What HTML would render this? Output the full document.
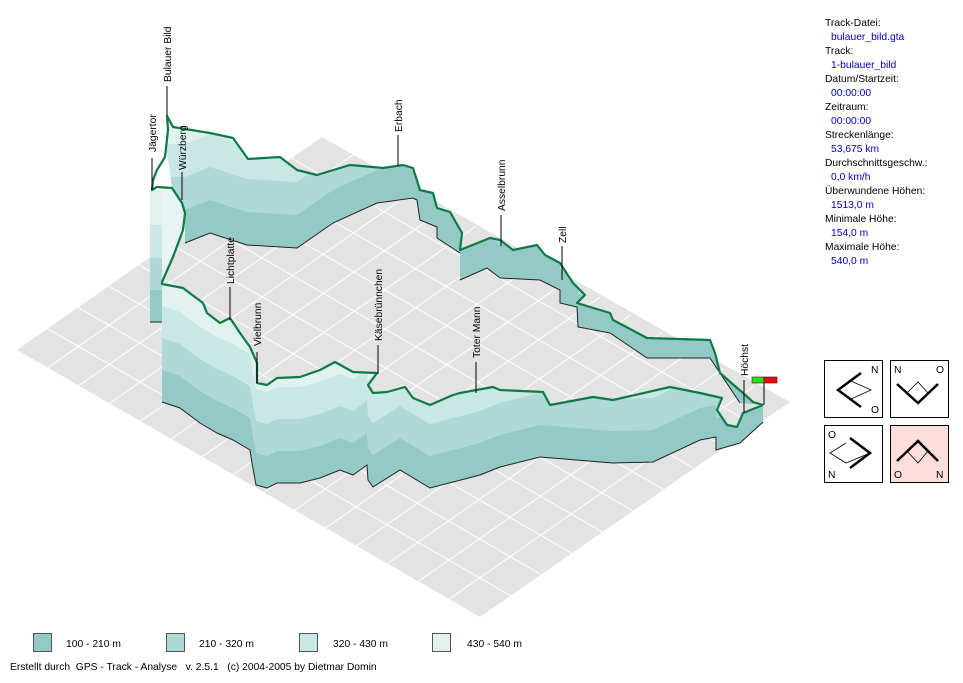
<!DOCTYPE html>
<html><head><meta charset="utf-8"><style>
body{margin:0;background:#fff;width:963px;height:683px;overflow:hidden;font-family:"Liberation Sans",sans-serif;}
svg{position:absolute;left:0;top:0}
</style></head><body>
<svg width="963" height="683" viewBox="0 0 963 683" font-family="Liberation Sans, sans-serif" font-size="10.3">
<defs>
<clipPath id="cf"><polygon points="162,284 183,288 203,303 207,313 220,323 230,318 240,333 250,347 257,363 257,383 267,385 277,378 300,377 320,370 335,362 353,372 377,373 368,385 373,393 387,392 405,387 413,398 430,405 453,395 460,393 493,387 500,390 543,392 550,405 593,397 613,400 670,387 700,393 722,398 717,410 727,425 737,427 743,413 763,405 763,422 740,443 716,450 716,437 700,440 653,462 613,463 540,457 500,467 480,475 430,488 400,470 373,487 368,480 367,465 353,475 340,470 320,478 300,483 277,483 267,488 256,485 252,463 250,450 233,440 217,433 200,423 180,408 162,402"/></clipPath>
<path id="fb" d="M162,0 L162,402 180,408 200,423 217,433 233,440 250,450 252,463 256,485 267,488 277,483 300,483 320,478 340,470 353,475 367,465 368,480 373,487 400,470 430,488 480,475 500,467 540,457 613,463 653,462 700,440 716,437 716,450 740,443 763,422 763,0Z"/>
<clipPath id="cb"><polygon points="167,116 173,127 210,133 233,138 248,159 280,157 297,170 317,175 350,165 383,168 403,165 413,168 420,190 433,193 437,208 450,212 462,233 460,250 490,238 500,240 513,250 537,245 545,255 560,263 573,283 585,295 577,303 610,313 613,320 647,338 710,340 715,353 720,373 743,393 753,402 763,405 740,403 710,358 647,358 610,333 578,327 577,307 560,303 560,290 540,280 500,278 487,268 460,280 460,253 437,238 437,227 420,220 417,200 413,198 377,203 333,223 297,248 247,245 210,233 185,243 185,213 182,203 172,188 167,150"/></clipPath>
<path id="bb" d="M160,0 L160,243 185,243 210,233 247,245 297,248 333,223 377,203 413,198 417,200 420,220 437,227 437,238 460,253 460,280 487,268 500,278 540,280 560,290 560,303 577,307 578,327 610,333 647,358 710,358 740,403 770,405 770,0Z"/>
</defs>
<polygon points="17,350 322,137 790,402 480,617" fill="#e3e3e3"/>
<g transform="matrix(463,267,305,-213,17,350)" fill="none">
<path stroke="#fff" stroke-width="1" vector-effect="non-scaling-stroke" d="M0.0667,0V1M0.1333,0V1M0.2,0V1M0.2667,0V1M0.3333,0V1M0.4,0V1M0.4667,0V1M0.5333,0V1M0.6,0V1M0.6667,0V1M0.7333,0V1M0.8,0V1M0.8667,0V1M0.9333,0V1M0,0.1H1M0,0.2H1M0,0.3H1M0,0.4H1M0,0.5H1M0,0.6H1M0,0.7H1M0,0.8H1M0,0.9H1"/>
</g>
<g clip-path="url(#cb)">
<rect x="150" y="100" width="630" height="320" fill="#94cac6"/>
<use href="#bb" transform="translate(0,-33)" fill="#afd9d7"/>
<use href="#bb" transform="translate(0,-66)" fill="#c9e7e5"/>
<use href="#bb" transform="translate(0,-99)" fill="#e1f1f0"/>
</g>
<polyline fill="none" stroke="#222" stroke-width="1" points="185,243 210,233 247,245 297,248 333,223 377,203 413,198 417,200 420,220 437,227 437,238 460,253"/>
<polyline fill="none" stroke="#222" stroke-width="1" points="460,280 487,268 500,278 540,280 560,290 560,303 577,307 578,327 610,333 647,358 710,358 740,403"/>
<rect x="150" y="190" width="12" height="35" fill="#e1f1f0"/>
<rect x="150" y="225" width="12" height="33" fill="#c9e7e5"/>
<rect x="150" y="258" width="12" height="32" fill="#afd9d7"/>
<rect x="150" y="290" width="12" height="32" fill="#94cac6"/>
<line x1="150" y1="322" x2="162" y2="322" stroke="#222"/>
<polygon points="162,188 172,188 182,203 185,213 183,230 173,257 162,282" fill="#e6f4f3"/>
<g clip-path="url(#cf)">
<rect x="150" y="270" width="630" height="230" fill="#94cac6"/>
<use href="#fb" transform="translate(0,-32)" fill="#afd9d7"/>
<use href="#fb" transform="translate(0,-64)" fill="#c9e7e5"/>
<use href="#fb" transform="translate(0,-96)" fill="#e1f1f0"/>
</g>
<polyline fill="none" stroke="#222" stroke-width="1" points="162,402 180,408 200,423 217,433 233,440 250,450 252,463 256,485 267,488 277,483 300,483 320,478 340,470 353,475 367,465 368,480 373,487 400,470 430,488 480,475 500,467 540,457 613,463 653,462 700,440 716,437 716,450 740,443 763,422"/>
<g fill="none" stroke="#0d7a45" stroke-width="2.2" stroke-linejoin="round">
<polyline points="763,405 753,402 743,393 720,373 715,353 710,340 647,338 613,320 610,313 577,303 585,295 573,283 560,263 545,255 537,245 513,250 500,240 490,238 460,250 462,233 450,212 437,208 433,193 420,190 413,168 403,165 383,168 350,165 317,175 297,170 280,157 248,159 233,138 210,133 173,127 167,116 168,130 165,157 157,170 153,180 152,190 157,187 172,188 182,203 185,213 183,230 173,257 162,282 162,284 183,288 203,303 207,313 220,323 230,318 240,333 250,347 257,363 257,383 267,385 277,378 300,377 320,370 335,362 353,372 377,373 368,385 373,393 387,392 405,387 413,398 430,405 453,395 460,393 493,387 500,390 543,392 550,405 593,397 613,400 670,387 700,393 722,398 717,410 727,425 737,427 743,413 763,405"/>
</g>
<g stroke="#000" stroke-width="1">
<line x1="152" y1="158" x2="152" y2="190"/>
<line x1="167" y1="86" x2="167" y2="116"/>
<line x1="182" y1="172" x2="182" y2="200"/>
<line x1="398" y1="135" x2="398" y2="166"/>
<line x1="501" y1="215" x2="501" y2="246"/>
<line x1="562" y1="246" x2="562" y2="280"/>
<line x1="230" y1="287" x2="230" y2="320"/>
<line x1="257" y1="352" x2="257" y2="383"/>
<line x1="378" y1="345" x2="378" y2="374"/>
<line x1="476" y1="362" x2="476" y2="393"/>
<line x1="744" y1="380" x2="744" y2="413"/>
<line x1="764" y1="383" x2="764" y2="405"/>
</g>
<rect x="752" y="377" width="12" height="6" fill="#22e022" stroke="#600" stroke-width="0.6"/>
<rect x="764" y="377" width="13" height="6" fill="#e41010" stroke="#600" stroke-width="0.6"/>
<g fill="#000">
<text transform="translate(156,152) rotate(-90)">Jägertor</text>
<text transform="translate(171,82) rotate(-90)">Bulauer Bild</text>
<text transform="translate(186,170) rotate(-90)">Würzberg</text>
<text transform="translate(402,132) rotate(-90)">Erbach</text>
<text transform="translate(505,211) rotate(-90)">Asselbrunn</text>
<text transform="translate(566,243) rotate(-90)">Zell</text>
<text transform="translate(234,284) rotate(-90)">Lichtplatte</text>
<text transform="translate(261,346) rotate(-90)">Vielbrunn</text>
<text transform="translate(382,341) rotate(-90)">Käsebrünnchen</text>
<text transform="translate(480,358) rotate(-90)">Toter Mann</text>
<text transform="translate(748,376) rotate(-90)">Höchst</text>
</g>
<g>
<text x="825" y="26" fill="#000">Track-Datei:</text>
<text x="831" y="40" fill="#0000c8">bulauer_bild.gta</text>
<text x="825" y="54" fill="#000">Track:</text>
<text x="831" y="68" fill="#0000c8">1-bulauer_bild</text>
<text x="825" y="82" fill="#000">Datum/Startzeit:</text>
<text x="831" y="96" fill="#0000c8">00:00:00</text>
<text x="825" y="110" fill="#000">Zeitraum:</text>
<text x="831" y="124" fill="#0000c8">00:00:00</text>
<text x="825" y="138" fill="#000">Streckenlänge:</text>
<text x="831" y="152" fill="#0000c8">53,675 km</text>
<text x="825" y="166" fill="#000">Durchschnittsgeschw.:</text>
<text x="831" y="180" fill="#0000c8">0,0 km/h</text>
<text x="825" y="194" fill="#000">Überwundene Höhen:</text>
<text x="831" y="208" fill="#0000c8">1513,0 m</text>
<text x="825" y="222" fill="#000">Minimale Höhe:</text>
<text x="831" y="236" fill="#0000c8">154,0 m</text>
<text x="825" y="250" fill="#000">Maximale Höhe:</text>
<text x="831" y="264" fill="#0000c8">540,0 m</text>
</g>
<g stroke="#000" fill="none">
<rect x="824.5" y="360.5" width="58" height="57" fill="#fff"/>
<rect x="890.5" y="360.5" width="58" height="57" fill="#fff"/>
<rect x="824.5" y="425.5" width="58" height="57" fill="#fff"/>
<rect x="890.5" y="425.5" width="58" height="57" fill="#fdd"/>
<polyline points="861,373 838,390 861,407" stroke-width="2.5"/>
<polyline points="838,390 851,381 871,390 851,399" stroke-width="0.8"/>
<polyline points="897,384 918,403 938,384" stroke-width="2.5"/>
<polyline points="907,393 918,382 928,393" stroke-width="0.8"/>
<polyline points="850,438 870,453 850,468" stroke-width="2.5"/>
<polyline points="870,453 846,463 830,453 846,443" stroke-width="0.8"/>
<polyline points="897,461 918,441 938,461" stroke-width="2.5"/>
<polyline points="907,451 918,463 928,451" stroke-width="0.8"/>
</g>
<g fill="#000">
<text x="871" y="373">N</text><text x="871" y="413">O</text>
<text x="894" y="373">N</text><text x="936" y="373">O</text>
<text x="828" y="438">O</text><text x="828" y="478">N</text>
<text x="894" y="478">O</text><text x="936" y="478">N</text>
</g>
<g stroke="#555" stroke-width="1">
<rect x="33.5" y="633.5" width="18" height="18" fill="#94cac6"/>
<rect x="166.5" y="633.5" width="18" height="18" fill="#afd9d7"/>
<rect x="299.5" y="633.5" width="18" height="18" fill="#c9e7e5"/>
<rect x="432.5" y="633.5" width="18" height="18" fill="#e1f1f0"/>
</g>
<g fill="#000">
<text x="66" y="647">100 - 210 m</text>
<text x="199" y="647">210 - 320 m</text>
<text x="333" y="647">320 - 430 m</text>
<text x="467" y="647">430 - 540 m</text>
<text x="10" y="670" xml:space="preserve">Erstellt durch  GPS - Track - Analyse   v. 2.5.1   (c) 2004-2005 by Dietmar Domin</text>
</g>
</svg>
</body></html>
